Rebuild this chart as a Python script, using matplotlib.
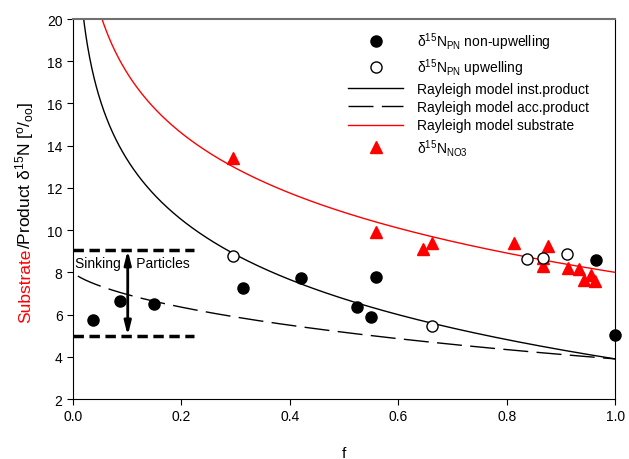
import matplotlib
matplotlib.use("Agg")
import matplotlib.pyplot as plt
import numpy as np

plt.rcParams['font.family'] = ['Liberation Sans', 'DejaVu Sans']
plt.rcParams['mathtext.fontset'] = 'custom'
plt.rcParams['mathtext.rm'] = 'Liberation Sans'
plt.rcParams['mathtext.it'] = 'Liberation Sans:italic'
plt.rcParams['mathtext.bf'] = 'Liberation Sans:bold'

# PN, non-upwelling stations
f_non = [0.037, 0.086, 0.150, 0.314, 0.420, 0.523, 0.550, 0.559, 0.965, 1.0]
d15n_non = [5.76, 6.64, 6.50, 7.24, 7.72, 6.36, 5.90, 7.78, 8.57, 5.05]

# PN, upwelling stations
f_up = [0.296, 0.662, 0.838, 0.866, 0.911]
d15n_up = [8.76, 5.47, 8.62, 8.69, 8.87]

# nitrate
f_no3 = [0.296, 0.559, 0.645, 0.662, 0.814, 0.876, 0.866, 0.866, 0.913, 0.933, 0.955, 0.943, 0.962]
d15n_no3 = [13.4, 9.93, 9.10, 9.37, 9.39, 9.26, 8.66, 8.28, 8.19, 8.16, 7.87, 7.65, 7.60]

# Rayleigh model parameters
delta0 = 8.0
eps = 4.1

# sinking particles range
sink_top = 9.05
sink_bottom = 5.0

f = np.linspace(0.001, 1.0, 1000)
substrate = delta0 - eps * np.log(f)
inst_product = substrate - eps
fa = f[f > 0.008]
acc_product = delta0 + eps * fa * np.log(fa) / (1 - fa)
acc_product[-1] = delta0 - eps

fig = plt.figure(figsize=(6.29, 4.6), dpi=100)
ax = fig.add_axes([0.116, 0.1304, 0.862, 0.8261])

ax.plot(f_non, d15n_non, 'o', color='black', ms=8, clip_on=False, zorder=5,
        label='δ$^{15}$N$_{\\rm PN}$ non-upwelling')
ax.plot(f_up, d15n_up, 'o', mfc='white', mec='black', ms=8, mew=1, zorder=5,
        label='δ$^{15}$N$_{\\rm PN}$ upwelling')
ax.plot(f, inst_product, '-', color='black', lw=1, label='Rayleigh model inst.product')
ax.plot(fa, acc_product, color='black', lw=1, linestyle=(0, (18, 6)),
        label='Rayleigh model acc.product')
ax.plot(f, substrate, '-', color='red', lw=1, label='Rayleigh model substrate')
ax.plot(f_no3, d15n_no3, '^', color='red', ms=8, zorder=4,
        label='δ$^{15}$N$_{\\rm NO3}$')

# sinking particles annotation
ax.plot([0, 0.223], [sink_top, sink_top], color='black', lw=2.5, linestyle=(0, (3, 1.6)))
ax.plot([0, 0.223], [sink_bottom, sink_bottom], color='black', lw=2.5, linestyle=(0, (3, 1.6)))
ax.text(0.004, 8.42, 'Sinking    Particles', fontsize=10, ha='left', va='center')
ax.annotate('', xy=(0.101, sink_bottom), xytext=(0.101, sink_top),
            arrowprops=dict(arrowstyle='<|-|>,head_width=0.2,head_length=0.8',
                            color='black', lw=2, shrinkA=0, shrinkB=0))

ax.set_xlim(0, 1)
ax.set_ylim(2, 20)
ax.set_xticks(np.arange(0, 1.01, 0.2))
ax.set_xticklabels(['%.1f' % v for v in np.arange(0, 1.01, 0.2)])
ax.set_yticks(np.arange(2, 21, 2))
ax.tick_params(direction='out', length=4, labelsize=10, top=False, right=False)
ax.spines['top'].set_color('#707070')
ax.spines['top'].set_linewidth(1.5)
ax.set_xlabel('f', fontsize=11, labelpad=16)

# two-coloured y label
t1 = fig.text(0.048, 0.298, 'Substrate', color='red', fontsize=12.5, rotation=90,
              rotation_mode='anchor', ha='left', va='baseline')
fig.canvas.draw()
bb = t1.get_window_extent()
y2 = fig.transFigure.inverted().transform((0, bb.y1))[1]
fig.text(0.048, y2, '/Product δ$^{15}$N [$^{\\rm o}$/$_{\\rm oo}$]', color='black',
         fontsize=12.5, rotation=90, rotation_mode='anchor', ha='left', va='baseline')

ax.legend(loc='upper right', bbox_to_anchor=(0.97, 0.995), frameon=False, fontsize=10,
          handlelength=4, labelspacing=0.3, handletextpad=1.0, borderpad=0.2)

fig.savefig('out.png', dpi=100)
